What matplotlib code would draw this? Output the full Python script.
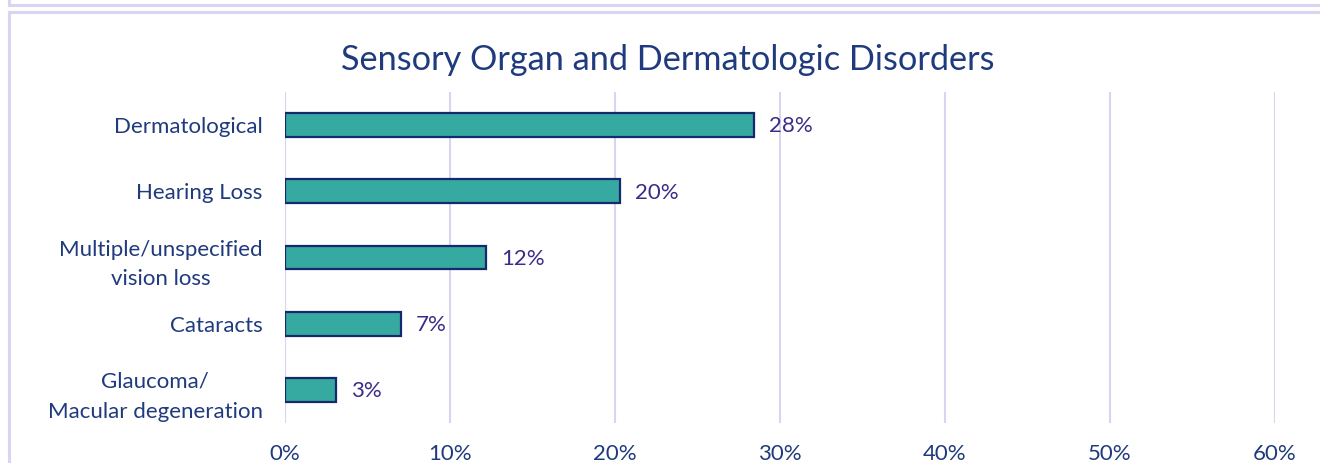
import matplotlib
matplotlib.use("Agg")
import matplotlib.pyplot as plt
from matplotlib.lines import Line2D

#####################################
# Data
#####################################

categories = [
    "Dermatological",
    "Hearing Loss",
    "Multiple/unspecified\nvision loss",
    "Cataracts",
    "Glaucoma/\nMacular degeneration",
]
values = [28.4, 20.3, 12.2, 7.0, 3.1]
value_labels = ["28%", "20%", "12%", "7%", "3%"]
ticks = [0, 10, 20, 30, 40, 50, 60]
tick_labels = ["0%", "10%", "20%", "30%", "40%", "50%", "60%"]

#####################################
# Styles
#####################################

plt.rcParams["font.family"] = ["Lato", "DejaVu Sans"]
NAVY = "#1f3a7d"
PURPLE = "#3a2d88"
GRID = "#d8d4f2"
BAR = "#36a9a0"
EDGE = "#16296f"

W, H = 1320, 463
fig = plt.figure(figsize=(W / 100, H / 100), dpi=100)
ax = fig.add_axes([285 / W, 40 / H, 990 / W, 331 / H])

#####################################
# Bars
#####################################

ypos = list(range(len(categories)))[::-1]
ax.barh(ypos, values, height=0.36, color=BAR, edgecolor=EDGE, linewidth=1.6, zorder=3)

for y, v, lab in zip(ypos, values, value_labels):
    ax.annotate(lab, (v, y), xytext=(11, -1), textcoords="offset points",
                va="center", ha="left", fontsize=16, color=PURPLE)

ax.set_xlim(0, 60)
ax.set_ylim(-0.5, len(categories) - 0.5)
ax.set_xticks(ticks)
ax.set_xticklabels(tick_labels, fontsize=16, color=NAVY)
ax.set_yticks(ypos)
ax.set_yticklabels(categories, fontsize=16, color=NAVY,
                   multialignment="center", linespacing=1.6)
ax.tick_params(length=0)
ax.tick_params(axis="x", pad=15)
ax.tick_params(axis="y", pad=16)
ax.grid(axis="x", color=GRID, linewidth=1.5, zorder=0)
for s in ax.spines.values():
    s.set_visible(False)
ax.axvline(0, color=GRID, linewidth=1.5, zorder=1)

fig.text(668 / W, 1 - 60 / H, "Sensory Organ and Dermatologic Disorders",
         ha="center", va="center", fontsize=24.7, color=NAVY)

#####################################
# Outer frame lines
#####################################

def fx(px):
    return px / W

def fy(py):
    return 1 - py / H

frame = dict(color=GRID, linewidth=2.2, transform=fig.transFigure)
fig.add_artist(Line2D([fx(8.5), fx(W)], [fy(4.5), fy(4.5)], **frame))
fig.add_artist(Line2D([fx(8.5), fx(8.5)], [fy(0), fy(4.5)], **frame))
fig.add_artist(Line2D([fx(8.5), fx(W)], [fy(11.5), fy(11.5)], **frame))
fig.add_artist(Line2D([fx(8.5), fx(8.5)], [fy(11.5), fy(H)], **frame))

fig.savefig("out.png", dpi=100)
